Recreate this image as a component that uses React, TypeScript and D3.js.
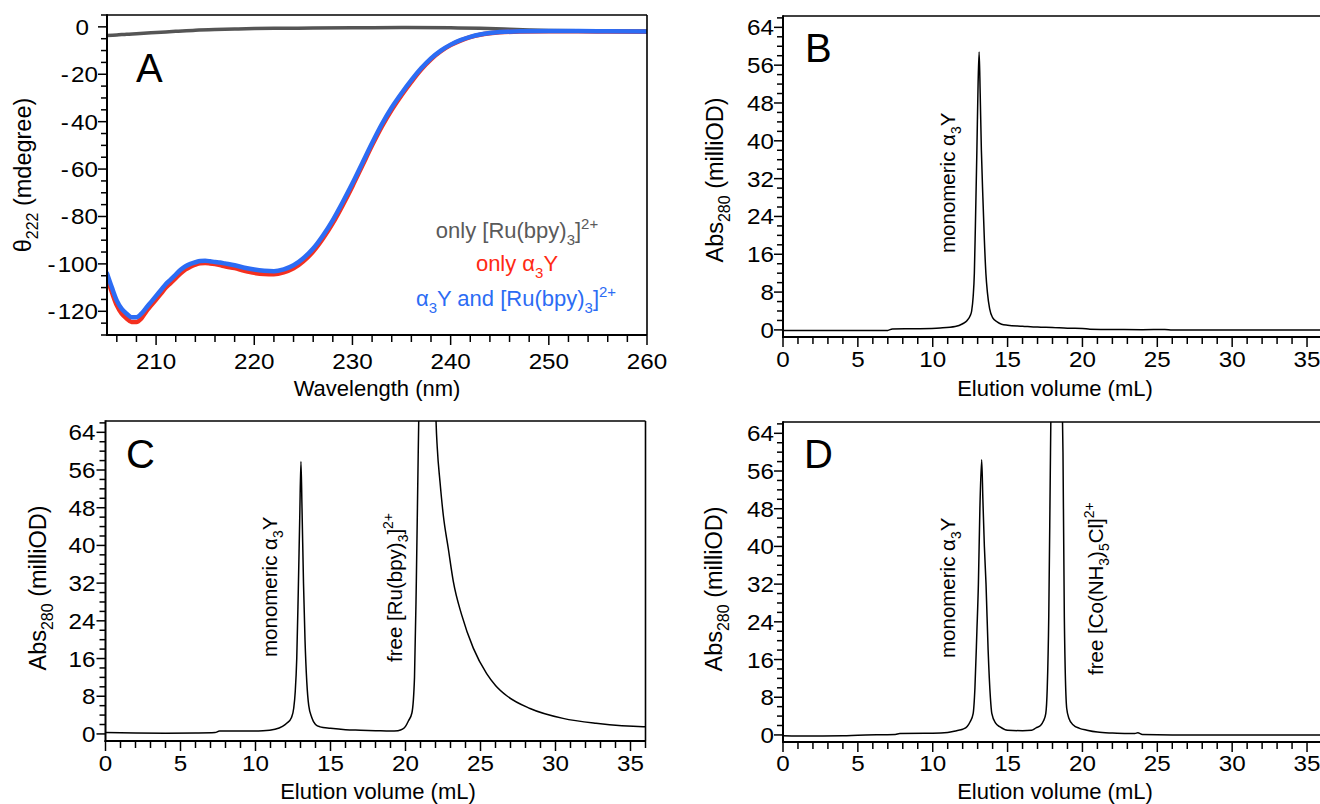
import React from "react";
import * as d3 from "d3";

// ---------- Panel A: CD spectra ----------
const cdWavelength = [205,205.5,206,206.5,207,207.5,208,208.5,209,209.5,210,210.5,211,211.5,212,212.5,213,213.5,214,214.5,215,215.5,216,216.5,217,218,219,220,221,222,223,224,225,226,227,228,229,230,231,232,233,234,235,236,237,238,239,240,241,242,243,244,245,247,250,253,256,260];
const cdBoth = [-104,-110,-115.5,-119,-121,-122.5,-122.5,-121,-118.5,-116,-113.5,-111,-108.5,-106.5,-104.5,-102.5,-101,-100,-99.3,-98.8,-98.7,-98.9,-99.2,-99.4,-99.8,-100.6,-101.6,-102.4,-102.9,-103.1,-102.3,-100.6,-97.6,-93.5,-88,-81.5,-74,-66,-57.5,-49,-41,-34,-28,-22.5,-17.5,-13.3,-10,-7.5,-5.6,-4.2,-3.2,-2.6,-2.2,-1.9,-1.8,-1.8,-1.9,-2];
const cdProteinOnly = [-106,-112,-117.5,-121,-123,-124.5,-124.5,-123,-120,-117.5,-115,-112.5,-110,-108,-106,-104,-102.3,-101.2,-100.3,-99.7,-99.6,-99.8,-100.1,-100.5,-101,-101.8,-102.9,-103.8,-104.3,-104.4,-103.6,-101.9,-98.9,-94.8,-89.3,-82.8,-75.3,-67.2,-58.6,-50,-42,-35,-28.8,-23.2,-18,-13.7,-10.3,-7.7,-5.8,-4.3,-3.3,-2.7,-2.3,-2.0,-1.9,-1.9,-2.0,-2.1];
const cdRuWavelength = [205,206,207,208,210,212,214,216,218,220,223,226,230,235,240,243,246,248,250,253,256,260];
const cdRuOnly = [-3.6,-3.4,-3.1,-2.9,-2.4,-1.9,-1.4,-1.1,-0.9,-0.7,-0.6,-0.5,-0.4,-0.3,-0.4,-0.6,-1.0,-1.3,-1.5,-1.6,-1.7,-1.8];
const cdXTicks = [210,220,230,240,250,260];
const cdYTicks = [0,-20,-40,-60,-80,-100,-120];

// ---------- Panel B: protein alone ----------
const bVolume = [0,2,4,6,7,7.3,9,10.5,11.5,12,12.3,12.5,12.6,12.7,12.78,12.85,12.95,13.03,13.1,13.17,13.25,13.35,13.45,13.55,13.65,13.8,14.0,14.3,14.6,15,16,17,18,19,20,20.5,22,24,25.5,26,30,36];
const bAbs = [-0.1,-0.1,-0.1,-0.15,-0.1,0.2,0.25,0.4,0.7,1.3,2.0,3.0,4.0,7,12,22,38,52,58.8,50,38,28,19,12,8,4.5,2.6,1.7,1.2,1.0,0.8,0.6,0.5,0.35,0.3,0.15,0.1,0.05,0.1,0,0,0];

// ---------- Panel C: protein + [Ru(bpy)3]2+ ----------
const cVolume = [0,2,4,6,7.3,7.6,9,10.5,11.3,11.8,12.1,12.4,12.55,12.65,12.75,12.85,12.95,13.03,13.1,13.2,13.3,13.42,13.55,13.75,14.0,14.3,15,16,17,18,19,19.5,19.8,20.0,20.2,20.43,20.6,20.72,20.85,20.95,21.45,21.95,22.04,22.12,22.3,22.52,22.85,23.19,23.75,24.52,25.41,26.0,26.75,28.3,30.5,32.7,35.85,36];
const cAbs = [0.3,0.2,0.15,0.2,0.3,0.6,0.6,0.7,1.0,1.6,2.3,3.5,5.5,9,16,30,46,57.8,48,32,20,11,6,3.5,2.0,1.5,1.2,0.9,0.8,0.7,0.6,0.7,1.0,1.6,2.8,4.5,12,32,60,80,160,80,66,60.6,53.5,46.4,39.4,32.3,25.2,18.2,12.8,10.3,8.1,5.4,3.3,2.25,1.55,1.55];

// ---------- Panel D: protein + [Co(NH3)5Cl]2+ ----------
const dVolume = [0,2,4,5,7.5,7.8,10,11,11.6,12,12.3,12.5,12.7,12.82,12.95,13.05,13.15,13.27,13.35,13.45,13.56,13.7,13.85,13.95,14.2,14.5,15,16,16.6,16.9,17.2,17.4,17.55,17.65,17.75,17.85,17.9,18.28,18.65,18.7,18.79,18.95,19.1,19.39,19.8,20.3,21,22,23,23.5,23.7,24,26,30,36];
const dAbs = [-0.2,-0.25,-0.2,-0.05,0.1,0.3,0.35,0.5,0.9,1.2,1.8,2.8,4.5,10,22,32,48,58.4,50,40,32,18,8,4.5,2.5,1.7,1.0,0.9,1.0,1.5,2.0,3.0,4.5,10,25,55,70,150,70,60,25,5.6,3.5,2.1,1.4,1.0,0.6,0.4,0.3,0.3,0.45,0.1,0,0,0];

const volTicks = [0,5,10,15,20,25,30,35];
const absTicks = [0,8,16,24,32,40,48,56,64];

const FONT = "'Liberation Sans', Arial, Helvetica, sans-serif";
const TICK_FS = 22;
const TICK_SX = 1.1;
const TITLE_FS = 22;
const YTITLE_FS = 23.5;
const LEGEND_FS = 22;
const NOTE_FS = 20.5;

type Part = [string, "n" | "sub" | "sup"];
function Rich({ parts, fs }: { parts: Part[]; fs: number }) {
  let cur = 0;
  return (
    <>
      {parts.map(([t, k], i) => {
        const target = k === "sub" ? fs * 0.3 : k === "sup" ? -fs * 0.42 : 0;
        const dy = target - cur;
        cur = target;
        return (
          <tspan key={i} dy={dy} fontSize={k === "n" ? fs : fs * 0.68}>
            {t}
          </tspan>
        );
      })}
    </>
  );
}

function TickText({ v }: { v: number }) {
  if (v < 0) {
    return (
      <>
        <tspan>-</tspan>
        <tspan dx={2}>{String(-v)}</tspan>
      </>
    );
  }
  return <>{String(v)}</>;
}

type AxesProps = {
  xs: d3.ScaleLinear<number, number>;
  ys: d3.ScaleLinear<number, number>;
  xMajor: number[];
  xMinor: number[];
  yMajor: number[];
  yMinor: number[];
  xLabelBase: number;
  yLabelGap: number;
  zeroDx?: number;
};

function Axes({ xs, ys, xMajor, xMinor, yMajor, yMinor, xLabelBase, yLabelGap, zeroDx = 0 }: AxesProps) {
  const [x0, x1] = xs.range();
  const [y0, y1] = ys.range();
  return (
    <g stroke="#000" fill="none">
      <line x1={x0} x2={x1} y1={y1} y2={y1} strokeWidth={1.6} />
      <line x1={x1} x2={x1} y1={y1} y2={y0} strokeWidth={1.6} />
      <line x1={x0} x2={x0} y1={y1 - 0.8} y2={y0 + 1} strokeWidth={2} />
      <line x1={x0 - 1} x2={x1} y1={y0} y2={y0} strokeWidth={2} />
      {yMinor.map((v) => (
        <line key={"ym" + v} x1={x0 - 6} x2={x0} y1={ys(v)} y2={ys(v)} strokeWidth={1.5} />
      ))}
      {yMajor.map((v) => (
        <line key={"yM" + v} x1={x0 - 9} x2={x0} y1={ys(v)} y2={ys(v)} strokeWidth={1.5} />
      ))}
      {xMinor.map((v) => (
        <line key={"xm" + v} x1={xs(v)} x2={xs(v)} y1={y0} y2={y0 + 7} strokeWidth={1.5} />
      ))}
      {xMajor.map((v) => (
        <line key={"xM" + v} x1={xs(v)} x2={xs(v)} y1={y0} y2={y0 + 10} strokeWidth={1.5} />
      ))}
      <g stroke="none" fill="#000" fontSize={TICK_FS}>
        {yMajor.map((v) => (
          <text
            key={"yl" + v}
            transform={`translate(${x0 - yLabelGap + (v === 0 ? zeroDx : 0)},${ys(v) + 8}) scale(${TICK_SX},1)`}
            textAnchor="end"
          >
            <TickText v={v} />
          </text>
        ))}
        {xMajor.map((v) => (
          <text
            key={"xl" + v}
            transform={`translate(${xs(v)},${xLabelBase}) scale(${TICK_SX},1)`}
            textAnchor="middle"
          >
            {String(v)}
          </text>
        ))}
      </g>
    </g>
  );
}

function makeLine(xs: d3.ScaleLinear<number, number>, ys: d3.ScaleLinear<number, number>, xv: number[], yv: number[]) {
  const pts = xv.map((x, i) => [x, yv[i]] as [number, number]);
  return d3
    .line<[number, number]>()
    .x((d) => xs(d[0]))
    .y((d) => ys(d[1]))
    .curve(d3.curveMonotoneX)(pts) as string;
}

export default function App() {
  const ax = d3.scaleLinear().domain([205, 260]).range([107, 647]);
  const ay = d3.scaleLinear().domain([-130, 5]).range([335, 15]);
  const bx = d3.scaleLinear().domain([0, 36]).range([783, 1322]);
  const by = d3.scaleLinear().domain([-1.5, 66.4]).range([337, 16]);
  const cx = d3.scaleLinear().domain([0, 36]).range([105.5, 645.5]);
  const cy = d3.scaleLinear().domain([-1.5, 66.4]).range([741, 421]);
  const dx = d3.scaleLinear().domain([0, 36]).range([783, 1322]);
  const dy = d3.scaleLinear().domain([-1.5, 66.4]).range([742, 422]);

  const cdXMinor = d3.range(206, 260, 2).filter((v) => v % 10 !== 0);
  const cdYMinor = d3.range(-130, 6, 5).filter((v) => v % 20 !== 0);
  const volMinor = d3.range(0, 37, 1).filter((v) => v % 5 !== 0);
  const absMinor = d3.range(0, 67, 2).filter((v) => v % 8 !== 0);

  const clip = (id: string, xs: d3.ScaleLinear<number, number>, ys: d3.ScaleLinear<number, number>) => {
    const [x0, x1] = xs.range();
    const [y0, y1] = ys.range();
    return (
      <clipPath id={id}>
        <rect x={x0} y={y1} width={x1 - x0} height={y0 - y1} />
      </clipPath>
    );
  };

  const absTitle: Part[] = [["Abs", "n"], ["280", "sub"], [" (milliOD)", "n"]];
  const monomer: Part[] = [["monomeric α", "n"], ["3", "sub"], ["Y", "n"]];

  return (
    <svg
      width={1320}
      height={804}
      viewBox="0 0 1320 804"
      style={{ position: "absolute", left: 0, top: 0, background: "#fff" }}
      fontFamily={FONT}
    >
      <defs>
        {clip("clipA", ax, ay)}
        {clip("clipB", bx, by)}
        {clip("clipC", cx, cy)}
        {clip("clipD", dx, dy)}
      </defs>
      <rect x={0} y={0} width={1320} height={804} fill="#fff" />

      {/* ---------------- Panel A ---------------- */}
      <g clipPath="url(#clipA)" fill="none" strokeLinejoin="round" strokeLinecap="round">
        <path d={makeLine(ax, ay, cdRuWavelength, cdRuOnly)} stroke="#555555" strokeWidth={3.5} />
        <path d={makeLine(ax, ay, cdWavelength, cdProteinOnly)} stroke="#f4301f" strokeWidth={4.5} />
        <path d={makeLine(ax, ay, cdWavelength, cdBoth)} stroke="#2c6cf4" strokeWidth={4.5} />
      </g>
      <Axes
        xs={ax}
        ys={ay}
        xMajor={cdXTicks}
        xMinor={cdXMinor}
        yMajor={cdYTicks}
        yMinor={cdYMinor}
        xLabelBase={369}
        yLabelGap={9}
        zeroDx={-9}
      />
      <text x={136} y={82} fontSize={40}>A</text>
      <text x={377} y={396} fontSize={TITLE_FS} textAnchor="middle">Wavelength (nm)</text>
      <text transform="translate(31,175) rotate(-90)" fontSize={YTITLE_FS} textAnchor="middle">
        <Rich parts={[["θ", "n"], ["222", "sub"], [" (mdegree)", "n"]]} fs={YTITLE_FS} />
      </text>
      <g fontSize={LEGEND_FS} textAnchor="middle">
        <text x={517} y={238} fill="#5a5a5a">
          <Rich parts={[["only [Ru(bpy)", "n"], ["3", "sub"], ["]", "n"], ["2+", "sup"]]} fs={LEGEND_FS} />
        </text>
        <text x={517} y={271} fill="#ff2a14">
          <Rich parts={[["only α", "n"], ["3", "sub"], ["Y", "n"]]} fs={LEGEND_FS} />
        </text>
        <text x={516} y={306} fill="#2c6cf4">
          <Rich parts={[["α", "n"], ["3", "sub"], ["Y and [Ru(bpy)", "n"], ["3", "sub"], ["]", "n"], ["2+", "sup"]]} fs={LEGEND_FS} />
        </text>
      </g>

      {/* ---------------- Panel B ---------------- */}
      <g clipPath="url(#clipB)" fill="none">
        <path d={makeLine(bx, by, bVolume, bAbs)} stroke="#000" strokeWidth={1.5} />
      </g>
      <Axes xs={bx} ys={by} xMajor={volTicks} xMinor={volMinor} yMajor={absTicks} yMinor={absMinor} xLabelBase={367} yLabelGap={9} />
      <text x={805} y={62} fontSize={40}>B</text>
      <text x={1055} y={396} fontSize={TITLE_FS} textAnchor="middle">Elution volume (mL)</text>
      <text transform="translate(723,180) rotate(-90)" fontSize={YTITLE_FS} textAnchor="middle">
        <Rich parts={absTitle} fs={YTITLE_FS} />
      </text>
      <text transform="translate(955,253) rotate(-90)" fontSize={NOTE_FS}>
        <Rich parts={monomer} fs={NOTE_FS} />
      </text>

      {/* ---------------- Panel C ---------------- */}
      <g clipPath="url(#clipC)" fill="none">
        <path d={makeLine(cx, cy, cVolume, cAbs)} stroke="#000" strokeWidth={1.5} />
      </g>
      <Axes xs={cx} ys={cy} xMajor={volTicks} xMinor={volMinor} yMajor={absTicks} yMinor={absMinor} xLabelBase={771} yLabelGap={10} />
      <text x={126} y={468} fontSize={40}>C</text>
      <text x={378} y={799} fontSize={TITLE_FS} textAnchor="middle">Elution volume (mL)</text>
      <text transform="translate(46,588) rotate(-90)" fontSize={YTITLE_FS} textAnchor="middle">
        <Rich parts={absTitle} fs={YTITLE_FS} />
      </text>
      <text transform="translate(277,657) rotate(-90)" fontSize={NOTE_FS}>
        <Rich parts={monomer} fs={NOTE_FS} />
      </text>
      <text transform="translate(402,662) rotate(-90)" fontSize={NOTE_FS}>
        <Rich parts={[["free [Ru(bpy)", "n"], ["3", "sub"], ["]", "n"], ["2+", "sup"]]} fs={NOTE_FS} />
      </text>

      {/* ---------------- Panel D ---------------- */}
      <g clipPath="url(#clipD)" fill="none">
        <path d={makeLine(dx, dy, dVolume, dAbs)} stroke="#000" strokeWidth={1.5} />
      </g>
      <Axes xs={dx} ys={dy} xMajor={volTicks} xMinor={volMinor} yMajor={absTicks} yMinor={absMinor} xLabelBase={771} yLabelGap={9} />
      <text x={804} y={468} fontSize={40}>D</text>
      <text x={1055} y={799} fontSize={TITLE_FS} textAnchor="middle">Elution volume (mL)</text>
      <text transform="translate(722,589) rotate(-90)" fontSize={YTITLE_FS} textAnchor="middle">
        <Rich parts={absTitle} fs={YTITLE_FS} />
      </text>
      <text transform="translate(955,658) rotate(-90)" fontSize={NOTE_FS}>
        <Rich parts={monomer} fs={NOTE_FS} />
      </text>
      <text transform="translate(1103,675) rotate(-90)" fontSize={NOTE_FS}>
        <Rich
          parts={[["free [Co(NH", "n"], ["3", "sub"], [")", "n"], ["5", "sub"], ["Cl]", "n"], ["2+", "sup"]]}
          fs={NOTE_FS}
        />
      </text>
    </svg>
  );
}
